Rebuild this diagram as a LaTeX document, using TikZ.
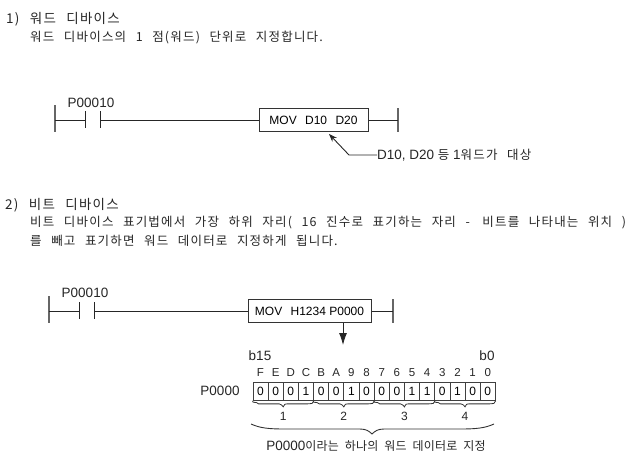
\documentclass[tikz,border=0pt]{standalone}
\usepackage{fontspec}
\setmainfont{Liberation Sans}
\newfontfamily\krfont[LetterSpace=9.5,WordSpace=2.4]{Noto Sans CJK KR}
\newfontfamily\krtight[LetterSpace=2,WordSpace=2]{Noto Sans CJK KR}
\newcommand{\krbody}{\fontsize{12.5}{14}\selectfont\krfont}
\usetikzlibrary{arrows.meta, positioning, calc}

\begin{document}
\begin{tikzpicture}[
  x=1pt, y=-1pt,
  font=\fontsize{13.5}{15}\selectfont,
  rung/.style={draw=black!85, line width=0.9pt},
  rail/.style={draw=black!60, line width=1.2pt},
  cmdbox/.style={draw=black!80, fill=white, line width=1pt, inner sep=0pt, minimum height=23pt, align=center, font=\fontsize{12}{14}\selectfont},
  head/.style={font=\fontsize{13.5}{15}\selectfont\krfont, anchor=west, inner sep=0pt, text=black!85},
  body/.style={font=\krbody, anchor=west, inner sep=0pt, text=black!85},
  lab/.style={inner sep=0pt, text=black!85},
  bitcell/.style={draw=black!75, line width=0.7pt, minimum width=15.15pt, minimum height=18pt, inner sep=0pt, font=\fontsize{12}{14}\selectfont},
  brc/.style={draw=black!80, line width=0.8pt}
]
\useasboundingbox (0,0) rectangle (637,466);

%--------------------------------------------------------------
% Word device
%--------------------------------------------------------------
\node[head] (title1) at (6,19) {1) 워드 디바이스};
\node[body] (text1) at (30,38) {워드 디바이스의 1 점(워드) 단위로 지정합니다.};

\coordinate (railA) at (55,120);
\coordinate (contactA) at (85,120);
\coordinate (contactB) at (100,120);
\coordinate (railB) at (398,120);
\node[lab] (addr1) at (91,103) {P00010};
\node[cmdbox, minimum width=109pt] (mov1) at (313.5,120) {MOV\hspace{0.7em}D10\hspace{0.7em}D20};

\draw[rail] ($(railA)+(0,-15)$) -- ($(railA)+(0,12)$);
\draw[rail] ($(railB)+(0,-12)$) -- ($(railB)+(0,12)$);
\draw[rung] ($(contactA)+(0,-9)$) -- ($(contactA)+(0,8)$);
\draw[rung] ($(contactB)+(0,-9)$) -- ($(contactB)+(0,8)$);
\draw[rung] (railA) -- (contactA);
\draw[rung] (contactB) -- (mov1.west);
\draw[rung] (mov1.east) -- (railB);

\node[lab, anchor=west] (note1) at (377,155) {D10, D20 {\krbody 등} 1{\krbody 워드가 대상}};
\coordinate (bend1) at (349,155);
\coordinate (tip1) at (329,134);
\draw[rung, -{Stealth[length=8pt,width=6pt]}] (note1.west) -- (bend1) -- (tip1);

%--------------------------------------------------------------
% Bit device
%--------------------------------------------------------------
\node[head] (title2) at (5,205) {2) 비트 디바이스};
\node[body] (text2) at (30,223) {비트 디바이스 표기법에서 가장 하위 자리( 16 진수로 표기하는 자리 -\hspace{3pt} 비트를 나타내는 위치 )};
\node[body] (text3) at (30,241) {를 빼고 표기하면 워드 데이터로 지정하게 됩니다.};

\coordinate (railC) at (49,311);
\coordinate (contactC) at (79,311);
\coordinate (contactD) at (94,311);
\coordinate (railD) at (393,311);
\node[lab] (addr2) at (85,293) {P00010};
\node[cmdbox, minimum width=123pt] (mov2) at (309.5,311) {MOV\hspace{0.7em}H1234 P0000};

\draw[rail] ($(railC)+(0,-15)$) -- ($(railC)+(0,12)$);
\draw[rail] ($(railD)+(0,-12)$) -- ($(railD)+(0,12)$);
\draw[rung] ($(contactC)+(0,-9)$) -- ($(contactC)+(0,8)$);
\draw[rung] ($(contactD)+(0,-9)$) -- ($(contactD)+(0,8)$);
\draw[rung] (railC) -- (contactC);
\draw[rung] (contactD) -- (mov2.west);
\draw[rung] (mov2.east) -- (railD);

\coordinate (tip2) at (343,345);
\draw[rung, -{Latex[length=12pt,width=8pt]}] (mov2.south -| tip2) -- (tip2);

%--------------------------------------------------------------
% Bits of P0000
%--------------------------------------------------------------
\node[lab] (b15) at (260,356) {b15};
\node[lab] (b0) at (487,356) {b0};
\node[lab] (wordname) at (220,391) {P0000};

\foreach \hexname/\bitval [count=\i from 0] in {F/0,E/0,D/0,C/1,B/0,A/0,9/1,8/0,7/0,6/0,5/1,4/1,3/0,2/1,1/0,0/0} {
  \node[bitcell] (bit\i) at ({260.5+\i*15.15},391.5) {\bitval};
  \node[lab, anchor=base, font=\fontsize{11.5}{14}\selectfont] (hex\i) at ({260.5+\i*15.15},376) {\hexname};
}

\foreach \first/\last/\nib in {0/3/1,4/7/2,8/11/3,12/15/4} {
  \coordinate (nibL) at (bit\first.south west);
  \coordinate (nibR) at (bit\last.south east);
  \coordinate (nibM) at ($(nibL)!0.5!(nibR)$);
  \draw[brc] (nibL) .. controls +(0,3) and +(-3,-3) .. ($(nibL)+(6,3)$)
    -- ($(nibM)+(-4,3)$) .. controls +(2,0) and +(-1,-1) .. ($(nibM)+(0,6)$)
    .. controls +(1,-3) and +(-2,0) .. ($(nibM)+(4,3)$)
    -- ($(nibR)+(-6,3)$) .. controls +(3,0) and +(0,3) .. (nibR);
  \node[lab, font=\fontsize{12}{14}\selectfont] (nib\nib) at ($(nibM)+(0,15.5)$) {\nib};
}

\coordinate (brcL) at (251,424);
\coordinate (brcM) at (372,434);
\coordinate (brcR) at (494,424);
\draw[draw=black!80, line width=0.9pt] (brcL) .. controls (260,428) and (268,429) .. (285,429)
  -- (360,429) .. controls (366,429) and (369,431) .. (brcM)
  .. controls (375,431) and (378,429) .. (384,429)
  -- (460,429) .. controls (477,429) and (485,428) .. (brcR);
\node[lab] (wordnote) at (376,446) {P0000{\fontsize{12}{14}\selectfont\krtight 이라는 하나의 워드 데이터로 지정}};

\end{tikzpicture}
\end{document}
